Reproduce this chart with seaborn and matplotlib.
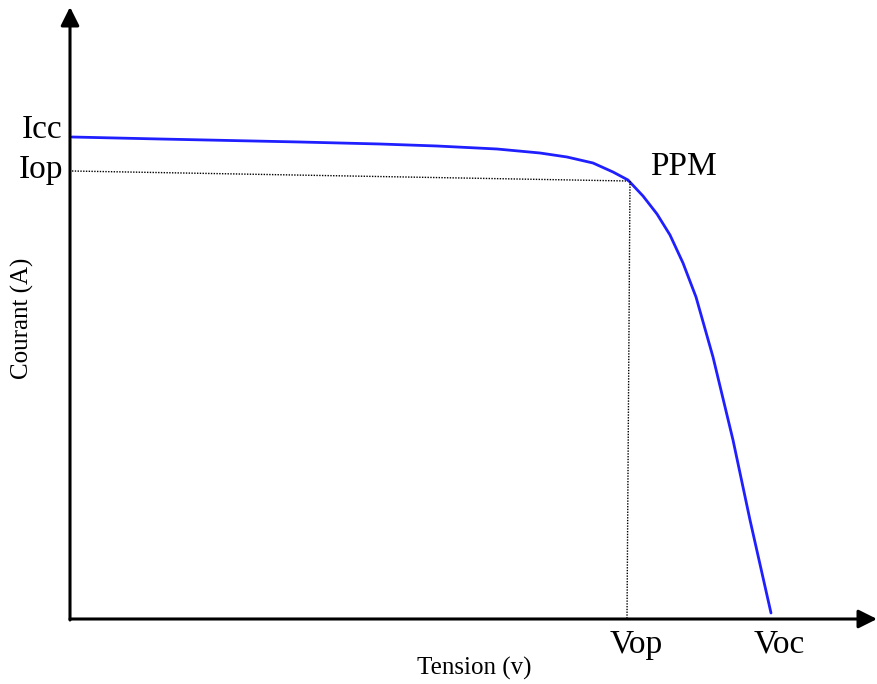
import matplotlib
matplotlib.use("Agg")
import matplotlib.pyplot as plt
import numpy as np
import pandas as pd
import seaborn as sns

# I-V curve of the PV cell (arbitrary units)
tension = [0, 88, 228, 308, 365, 425, 468, 495, 521, 541, 556, 571, 585,
           598, 611, 624, 641, 661, 678, 699]
courant = [482, 480, 477, 475, 473, 470, 466, 462, 456, 447, 439, 423, 405,
           384, 356, 322, 262, 179, 99, 6]

# maximum power point and its projections
vop, iop = 556, 438
icc = 482
voc = 699

sns.set_style("white")
plt.rcParams["font.family"] = ["Liberation Serif", "DejaVu Serif"]
plt.rcParams["text.color"] = "black"

fig = plt.figure(figsize=(8.77, 6.84), dpi=100)
ax = fig.add_axes([0, 0, 1, 1])
ax.set_xlim(-72, 805)
ax.set_ylim(-65, 619)
ax.axis("off")

df = pd.DataFrame({"tension": tension, "courant": courant})
sns.lineplot(data=df, x="tension", y="courant", ax=ax, color="#1f1fff",
             lw=2.0, sort=False, estimator=None)

# dotted projection lines
ax.plot([0, vop], [iop + 10, iop], ls=(0, (1, 1)), color="black", lw=1.0)
ax.plot([vop + 2, vop - 1], [iop, 0], ls=(0, (1, 1)), color="black", lw=1.0)

# axes with arrows
arrow = dict(arrowstyle="-|>", lw=2.2, color="black", mutation_scale=28,
             shrinkA=0, shrinkB=0)
ax.annotate("", xy=(805, 0), xytext=(-2, 0), arrowprops=arrow)
ax.annotate("", xy=(-2, 612), xytext=(-2, -1), arrowprops=arrow)

fs = 24
ax.text(-10, icc + 7, "Icc", fontsize=fs, ha="right", va="center")
ax.text(-9, iop + 11, "Iop", fontsize=fs, ha="right", va="center")
ax.text(578, 452, "PPM", fontsize=fs, ha="left", va="center")
ax.text(vop + 8, -10, "Vop", fontsize=fs, ha="center", va="top")
ax.text(voc + 8, -10, "Voc", fontsize=fs, ha="center", va="top")

ax.text(402, -49, "Tension (v)", fontsize=18, ha="center", va="center")
ax.text(-50, 301, "Courant (A)", fontsize=18, ha="center", va="center",
        rotation=90)

fig.savefig("out.png", dpi=100)
